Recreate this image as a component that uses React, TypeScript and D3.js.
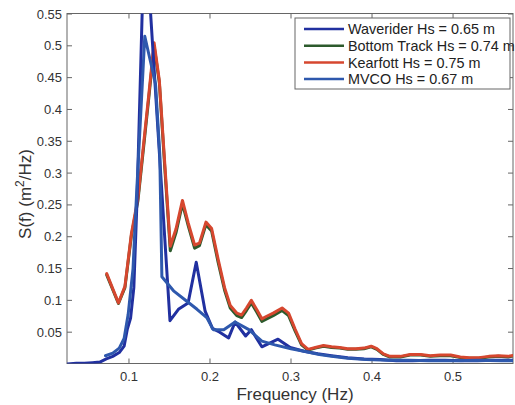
import React from "react";
import * as d3 from "d3";

// ---- data ----
const xTicks = [0.1, 0.2, 0.3, 0.4, 0.5];
const yTicks = [0.05, 0.1, 0.15, 0.2, 0.25, 0.3, 0.35, 0.4, 0.45, 0.5, 0.55];

const waveriderF = [0.024, 0.035, 0.045, 0.055, 0.064, 0.072, 0.080, 0.088, 0.094, 0.098, 0.102, 0.106, 0.110, 0.117, 0.125, 0.1506, 0.161, 0.173, 0.183, 0.194, 0.203, 0.212, 0.223, 0.231, 0.244, 0.251, 0.264, 0.284, 0.299, 0.316, 0.333, 0.350, 0.370, 0.390, 0.410, 0.430, 0.450, 0.470, 0.490, 0.510, 0.530, 0.550, 0.575];
const waveriderS = [0.000, 0.001, 0.001, 0.002, 0.003, 0.008, 0.012, 0.018, 0.028, 0.055, 0.072, 0.120, 0.260, 0.585, 0.585, 0.068, 0.086, 0.096, 0.160, 0.083, 0.056, 0.050, 0.041, 0.066, 0.044, 0.054, 0.027, 0.039, 0.026, 0.020, 0.016, 0.013, 0.010, 0.008, 0.007, 0.005, 0.005, 0.006, 0.006, 0.005, 0.005, 0.006, 0.006];

const bottomTrackF = [0.0725, 0.087, 0.095, 0.103, 0.111, 0.118, 0.125, 0.131, 0.1375, 0.144, 0.151, 0.158, 0.166, 0.173, 0.181, 0.187, 0.195, 0.202, 0.210, 0.218, 0.225, 0.233, 0.239, 0.245, 0.251, 0.258, 0.264, 0.270, 0.278, 0.289, 0.297, 0.305, 0.313, 0.321, 0.330, 0.340, 0.350, 0.360, 0.370, 0.380, 0.390, 0.399, 0.406, 0.414, 0.422, 0.435, 0.447, 0.460, 0.472, 0.484, 0.497, 0.509, 0.520, 0.532, 0.544, 0.556, 0.568, 0.580];
const bottomTrackS = [0.140, 0.095, 0.120, 0.202, 0.256, 0.340, 0.425, 0.500, 0.442, 0.312, 0.178, 0.206, 0.252, 0.218, 0.182, 0.186, 0.219, 0.209, 0.160, 0.116, 0.088, 0.076, 0.073, 0.084, 0.096, 0.081, 0.067, 0.071, 0.076, 0.084, 0.076, 0.052, 0.030, 0.022, 0.025, 0.028, 0.026, 0.025, 0.023, 0.023, 0.024, 0.027, 0.023, 0.015, 0.011, 0.011, 0.014, 0.014, 0.012, 0.013, 0.013, 0.010, 0.009, 0.009, 0.011, 0.012, 0.011, 0.014];

const kearfottF = [0.0725, 0.087, 0.095, 0.103, 0.111, 0.118, 0.125, 0.131, 0.1375, 0.144, 0.151, 0.158, 0.166, 0.173, 0.181, 0.187, 0.195, 0.202, 0.210, 0.218, 0.225, 0.233, 0.239, 0.245, 0.251, 0.258, 0.264, 0.270, 0.278, 0.289, 0.297, 0.305, 0.313, 0.321, 0.330, 0.340, 0.350, 0.360, 0.370, 0.380, 0.390, 0.399, 0.406, 0.414, 0.422, 0.435, 0.447, 0.460, 0.472, 0.484, 0.497, 0.509, 0.520, 0.532, 0.544, 0.556, 0.568, 0.580];
const kearfottS = [0.142, 0.096, 0.122, 0.205, 0.260, 0.345, 0.430, 0.505, 0.445, 0.318, 0.185, 0.212, 0.257, 0.222, 0.187, 0.190, 0.223, 0.213, 0.165, 0.120, 0.092, 0.080, 0.077, 0.088, 0.100, 0.085, 0.071, 0.075, 0.080, 0.088, 0.080, 0.055, 0.032, 0.023, 0.026, 0.029, 0.027, 0.026, 0.024, 0.024, 0.025, 0.028, 0.024, 0.016, 0.012, 0.012, 0.015, 0.015, 0.013, 0.014, 0.014, 0.011, 0.010, 0.010, 0.012, 0.013, 0.012, 0.015];

const mvcoF = [0.071, 0.080, 0.088, 0.094, 0.099, 0.105, 0.1095, 0.1195, 0.1328, 0.138, 0.1406, 0.155, 0.171, 0.184, 0.196, 0.204, 0.217, 0.231, 0.248, 0.264, 0.280, 0.300, 0.316, 0.335, 0.350, 0.370, 0.393, 0.420, 0.445, 0.470, 0.500, 0.530, 0.560, 0.580];
const mvcoS = [0.013, 0.017, 0.025, 0.040, 0.078, 0.150, 0.270, 0.515, 0.440, 0.330, 0.137, 0.115, 0.099, 0.086, 0.073, 0.054, 0.054, 0.066, 0.054, 0.036, 0.030, 0.024, 0.020, 0.015, 0.012, 0.009, 0.007, 0.006, 0.006, 0.005, 0.005, 0.006, 0.005, 0.005];

const seriesNames = ["Waverider Hs = 0.65 m", "Bottom Track Hs = 0.74 m", "Kearfott Hs = 0.75 m", "MVCO Hs = 0.67 m"];
const seriesColors = ["#2130a0", "#2c5a2c", "#d6472f", "#2e58ad"];

const FONT = "'Liberation Sans', Arial, Helvetica, sans-serif";

export default function App() {
  const W = 515, H = 405;
  const left = 67, right = 513, top = 13.5, bottom = 363.5;
  const x = d3.scaleLinear().domain([0.0235, 0.574]).range([left, right]);
  const y = d3.scaleLinear().domain([0, 0.55]).range([364, 14]);

  const series = [
    { f: waveriderF, s: waveriderS },
    { f: bottomTrackF, s: bottomTrackS },
    { f: kearfottF, s: kearfottS },
    { f: mvcoF, s: mvcoS },
  ];
  const line = d3.line<[number, number]>().x(d => x(d[0])).y(d => y(d[1]));
  const drawOrder = [1, 2, 0, 3];

  const axisColor = "#666";
  const tickLen = 5;

  return (
    <svg width={W} height={H} style={{ position: "absolute", left: 0, top: 0, background: "#fff" }} fontFamily={FONT}>
      <defs>
        <clipPath id="plotclip">
          <rect x={left} y={top} width={right - left} height={bottom - top} />
        </clipPath>
      </defs>
      <rect x={0} y={0} width={W} height={H} fill="#fff" />
      {/* box */}
      <rect x={left} y={top} width={right - left} height={bottom - top} fill="none" stroke={axisColor} strokeWidth={1} />
      {/* x ticks */}
      {xTicks.map(t => (
        <g key={"xt" + t}>
          <line x1={x(t)} x2={x(t)} y1={bottom} y2={bottom - tickLen} stroke={axisColor} />
          <line x1={x(t)} x2={x(t)} y1={top} y2={top + tickLen} stroke={axisColor} />
          <text x={x(t)} y={381} textAnchor="middle" fontSize={13} fill="#333">{t.toString()}</text>
        </g>
      ))}
      {yTicks.map(t => (
        <g key={"yt" + t}>
          <line x1={left} x2={left + tickLen} y1={y(t)} y2={y(t)} stroke={axisColor} />
          <line x1={right} x2={right - tickLen} y1={y(t)} y2={y(t)} stroke={axisColor} />
          <text x={left - 5} y={y(t) + 4.5} textAnchor="end" fontSize={13} fill="#333">{t.toString()}</text>
        </g>
      ))}
      {/* curves */}
      <g clipPath="url(#plotclip)">
        {drawOrder.map(i => {
          const pts = series[i].f.map((f, k) => [f, series[i].s[k]] as [number, number]);
          return (
            <path key={"s" + i} d={line(pts) || ""} fill="none" stroke={seriesColors[i]} strokeWidth={3} strokeLinejoin="round" strokeLinecap="round" />
          );
        })}
      </g>
      {/* labels */}
      <text x={295} y={400} textAnchor="middle" fontSize={17} fill="#333">Frequency (Hz)</text>
      <text transform="translate(31,194) rotate(-90)" textAnchor="middle" fontSize={17} fill="#333">
        S(f) (m<tspan dy={-7} fontSize={12}>2</tspan><tspan dy={7}>/Hz)</tspan>
      </text>
      {/* legend */}
      <rect x={295} y={18} width={215} height={71} fill="#fff" stroke={axisColor} strokeWidth={1} />
      {seriesNames.map((name, i) => {
        const cy = 29 + i * 16.7;
        return (
          <g key={"lg" + i}>
            <line x1={304} x2={344} y1={cy} y2={cy} stroke={seriesColors[i]} strokeWidth={2.5} />
            <text x={348} y={cy + 5.3} fontSize={14.4} fill="#222">{name}</text>
          </g>
        );
      })}
    </svg>
  );
}
